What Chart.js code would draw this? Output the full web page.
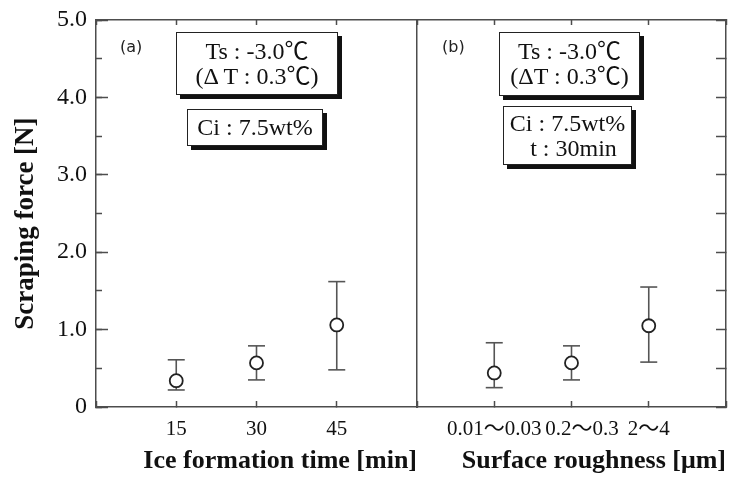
<!DOCTYPE html>
<html>
<head>
<meta charset="utf-8">
<script src="https://cdn.jsdelivr.net/npm/chart.js@4.4.1/dist/chart.umd.min.js"></script>
<style>
    html, body { margin: 0; padding: 0; background: #fff; }
    #wrap { position: relative; width: 731px; height: 479px; overflow: hidden; }
    canvas { position: absolute; top: 0; }
    #leftChart { left: 0; }
    #rightChart { left: 416px; }
    .box {
        position: absolute; box-sizing: border-box; background: #fff;
        border: 1.5px solid #222; box-shadow: 4px 4px 0 #111;
        display: flex; flex-direction: column; justify-content: center; align-items: center;
        font-family: 'Liberation Serif', 'Noto Sans CJK JP', serif; font-size: 24px;
        line-height: 25px; color: #111; white-space: pre;
    }
    .tag { position: absolute; font-family: 'DejaVu Sans', sans-serif; font-size: 16px; line-height: 16px; color: #222; }
</style>
</head>
<body>
<div id="wrap">
    <canvas id="leftChart" width="418" height="479"></canvas>
    <canvas id="rightChart" width="315" height="479"></canvas>

    <div class="tag" style="left:120px; top:39px;">(a)</div>
    <div class="box" style="left:176px; top:32px; width:162px; height:63px;"><span>Ts : -3.0℃</span><span>(Δ T : 0.3℃)</span></div>
    <div class="box" style="left:187px; top:109px; width:136px; height:37px;"><span>Ci : 7.5wt%</span></div>

    <div class="tag" style="left:442px; top:39px;">(b)</div>
    <div class="box" style="left:499px; top:32px; width:141px; height:64px;"><span>Ts : -3.0℃</span><span>(ΔT : 0.3℃)</span></div>
    <div class="box" style="left:503px; top:106px; width:129px; height:59px;"><span>Ci : 7.5wt%</span><span>  t : 30min</span></div>
</div>

<script>
const SERIF = "'Liberation Serif', 'Noto Sans CJK JP', serif";
const AXIS_COLOR = '#4d4d4d';
const BAR_COLOR = '#555';
const MARK_COLOR = '#222';
const TEXT_COLOR = '#111';

// (a) ice formation time
const timeCats = [15, 30, 45];
const timeMean = [0.34, 0.57, 1.06];
const timeLow = [0.22, 0.35, 0.48];
const timeHigh = [0.61, 0.79, 1.62];

// (b) surface roughness
const roughCats = ['0.01〜0.03', '0.2〜0.3', '2〜4'];
const roughMean = [0.44, 0.57, 1.05];
const roughLow = [0.25, 0.35, 0.58];
const roughHigh = [0.83, 0.79, 1.55];

// y axis labels (every 1.0 N)
const yLabels = ['0', '1.0', '2.0', '3.0', '4.0', '5.0'];

// error bars (one small line dataset each) + open circles on top
function buildDatasets(xs, mean, low, high) {
    const bars = xs.map((x, i) => ({
        data: [{ x: x, y: low[i] }, { x: x, y: high[i] }],
        showLine: true,
        borderColor: BAR_COLOR,
        borderWidth: 1.6,
        pointStyle: 'line',
        pointRadius: 8.5,
        pointHoverRadius: 8.5,
        pointBorderColor: BAR_COLOR,
        pointBorderWidth: 1.6,
        order: 2
    }));
    const marks = {
        data: xs.map((x, i) => ({ x: x, y: mean[i] })),
        pointStyle: 'circle',
        pointRadius: 6.5,
        pointHoverRadius: 6.5,
        pointBackgroundColor: '#fff',
        pointBorderColor: MARK_COLOR,
        pointBorderWidth: 1.8,
        order: 1
    };
    return [...bars, marks];
}

function axisBorder() {
    return { display: true, color: AXIS_COLOR, width: 1.5 };
}

// tick marks pointing into the plot
function inTicks(len) {
    return { display: true, drawOnChartArea: false, drawTicks: true, tickLength: -len, tickColor: AXIS_COLOR, tickWidth: 1.5 };
}

// force a scale's size and drop the label overhang padding chart.js adds
function fixSize(w, h) {
    return s => {
        if (w !== null) s.width = w;
        if (h !== null) s.height = h;
        s.paddingTop = 0;
        s.paddingBottom = 0;
        s.paddingLeft = 0;
        s.paddingRight = 0;
    };
}

const commonPlugins = { legend: { display: false }, tooltip: { enabled: false } };

// Left panel
new Chart(document.getElementById('leftChart'), {
    type: 'scatter',
    data: { datasets: buildDatasets(timeCats, timeMean, timeLow, timeHigh) },
    options: {
        responsive: false,
        animation: false,
        layout: { autoPadding: false, padding: { top: 20, right: 1, bottom: 0, left: 0 } },
        plugins: commonPlugins,
        scales: {
            x: {
                position: 'bottom', min: 0, max: 60,
                border: axisBorder(), grid: inTicks(6),
                ticks: {
                    stepSize: 15, autoSkip: false, maxRotation: 0, minRotation: 0, padding: 16,
                    color: TEXT_COLOR, font: { family: SERIF, size: 21 },
                    callback: v => timeCats.includes(v) ? String(v) : ''
                },
                title: {
                    display: true, text: 'Ice formation time [min]', align: 'end', color: TEXT_COLOR,
                    font: { family: SERIF, size: 26, weight: 'bold' }, padding: { top: 0, bottom: 2 }
                },
                afterFit: fixSize(null, 72)
            },
            xTop: {
                position: 'top', min: 0, max: 60,
                border: axisBorder(), grid: inTicks(5),
                ticks: { stepSize: 15, display: false },
                afterFit: fixSize(null, 0)
            },
            y: {
                position: 'left', weight: 1, min: 0, max: 5,
                border: axisBorder(), grid: inTicks(12),
                ticks: {
                    stepSize: 1, padding: 21, color: TEXT_COLOR, font: { family: SERIF, size: 24 },
                    callback: v => Number.isInteger(v) ? yLabels[v] : ''
                },
                title: {
                    display: true, text: 'Scraping force [N]   ', color: TEXT_COLOR,
                    font: { family: SERIF, size: 27, weight: 'bold' }, padding: { top: 10, bottom: 0 }
                },
                afterFit: fixSize(96, null)
            },
            yMinor: {
                position: 'left', weight: 0, min: 0, max: 5,
                border: { display: false }, grid: inTicks(6),
                ticks: { stepSize: 0.5, display: false },
                afterFit: fixSize(0, null)
            },
            yRight: {
                position: 'right', min: 0, max: 5,
                border: axisBorder(),
                grid: { display: true, drawOnChartArea: false, drawTicks: false },
                ticks: { display: false },
                afterFit: fixSize(0, null)
            }
        }
    }
});

// Right panel
new Chart(document.getElementById('rightChart'), {
    type: 'scatter',
    data: { datasets: buildDatasets(roughCats.map((c, i) => i + 1), roughMean, roughLow, roughHigh) },
    options: {
        responsive: false,
        animation: false,
        layout: { autoPadding: false, padding: { top: 20, right: 5, bottom: 0, left: 1 } },
        plugins: commonPlugins,
        scales: {
            x: {
                position: 'bottom', min: 0, max: 4,
                border: axisBorder(), grid: inTicks(6),
                ticks: {
                    stepSize: 1, autoSkip: false, maxRotation: 0, minRotation: 0, padding: 16,
                    color: TEXT_COLOR, font: { family: SERIF, size: 21 },
                    // the middle label sits a little right of its tick in the original
                    callback: v => roughCats[v - 1] ? (v === 2 ? '\u2002\u2002' : '') + roughCats[v - 1] : ''
                },
                title: {
                    display: true, text: 'Surface roughness [μm]', align: 'end', color: TEXT_COLOR,
                    font: { family: SERIF, size: 26, weight: 'bold' }, padding: { top: 0, bottom: 2 }
                },
                afterFit: fixSize(null, 72)
            },
            xTop: {
                position: 'top', min: 0, max: 4,
                border: axisBorder(), grid: inTicks(5),
                ticks: { stepSize: 1, display: false },
                afterFit: fixSize(null, 0)
            },
            y: {
                position: 'right', min: 0, max: 5,
                border: axisBorder(), grid: inTicks(10),
                ticks: { stepSize: 0.5, display: false },
                afterFit: fixSize(0, null)
            }
        }
    }
});
</script>
</body>
</html>
